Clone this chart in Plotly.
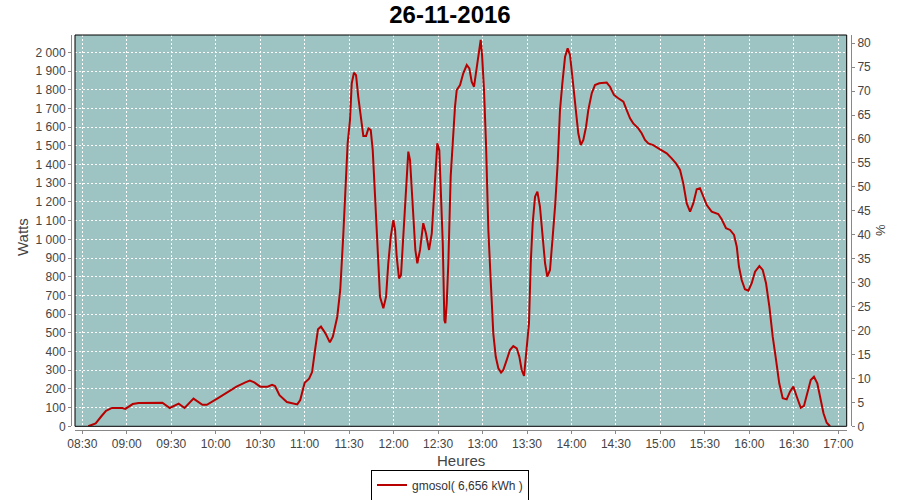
import plotly.graph_objects as go

DAY = "2016-11-26"

times = [
    "08:34:00", "08:35:00", "08:39:00", "08:43:00", "08:46:00", "08:50:00", "08:57:00", "08:59:00",
    "09:04:00", "09:08:00", "09:21:00", "09:24:00", "09:29:00", "09:35:00", "09:39:00", "09:45:00",
    "09:51:00", "09:54:00", "10:01:00", "10:08:00", "10:14:00", "10:20:00", "10:23:00", "10:26:00",
    "10:30:00", "10:35:00", "10:38:00", "10:40:00", "10:43:00", "10:48:00", "10:51:00", "10:55:00",
    "10:57:00", "11:00:00", "11:03:00", "11:05:00", "11:07:00", "11:09:00", "11:11:00", "11:14:00",
    "11:17:00", "11:19:00", "11:22:00", "11:24:00", "11:26:00", "11:28:00", "11:29:00", "11:30:35",
    "11:31:45", "11:33:15", "11:34:40", "11:36:10", "11:37:50", "11:39:35", "11:41:25", "11:43:00",
    "11:44:35", "11:45:55", "11:47:30", "11:48:35", "11:49:40", "11:50:50", "11:53:05", "11:54:55",
    "11:56:25", "11:58:05", "11:59:50", "12:01:00", "12:02:05", "12:03:40", "12:05:00", "12:06:35",
    "12:08:20", "12:09:55", "12:11:05", "12:12:15", "12:13:20", "12:14:40", "12:16:00", "12:17:50",
    "12:20:00", "12:21:50", "12:23:55", "12:25:45", "12:27:15", "12:28:35", "12:29:30", "12:30:50",
    "12:32:00", "12:33:10", "12:34:15", "12:34:55", "12:35:50", "12:36:55", "12:38:30", "12:40:15",
    "12:41:25", "12:42:35", "12:44:50", "12:47:00", "12:49:20", "12:51:05", "12:52:40", "12:54:15",
    "12:55:35", "12:57:10", "12:58:45", "12:59:40", "13:01:00", "13:02:20", "13:03:55", "13:05:30",
    "13:07:15", "13:08:55", "13:10:40", "13:12:30", "13:14:00", "13:16:20", "13:18:30", "13:20:45",
    "13:23:05", "13:24:50", "13:26:25", "13:28:00", "13:29:50", "13:31:20", "13:32:30", "13:33:50",
    "13:35:25", "13:37:00", "13:38:45", "13:40:35", "13:42:10", "13:43:40", "13:45:30", "13:47:20",
    "13:49:05", "13:50:40", "13:52:15", "13:53:50", "13:55:40", "13:57:25", "13:59:00", "14:00:20",
    "14:01:55", "14:03:30", "14:04:35", "14:06:15", "14:08:00", "14:09:50", "14:11:20", "14:13:40",
    "14:15:50", "14:18:45", "14:23:45", "14:26:00", "14:28:40", "14:31:35", "14:35:00", "14:37:15",
    "14:39:30", "14:41:40", "14:45:05", "14:47:20", "14:49:35", "14:51:50", "14:55:10", "14:59:45",
    "15:04:15", "15:07:35", "15:10:30", "15:13:15", "15:15:25", "15:17:45", "15:20:00", "15:22:10",
    "15:24:30", "15:26:40", "15:28:55", "15:31:15", "15:34:35", "15:39:00", "15:41:20", "15:44:15",
    "15:47:00", "15:49:40", "15:51:30", "15:53:00", "15:54:50", "15:57:00", "15:59:20", "16:01:35",
    "16:03:50", "16:06:45", "16:09:00", "16:11:15", "16:13:30", "16:15:45", "16:18:00", "16:20:10",
    "16:22:30", "16:25:10", "16:27:25", "16:29:40", "16:32:00", "16:34:40", "16:36:50", "16:39:05",
    "16:41:25", "16:43:35", "16:45:50", "16:48:10", "16:50:00", "16:52:10", "16:54:25",
]

watts = [
    0, 3, 16, 55, 83, 98, 98, 93,
    119, 125, 125, 126, 98, 121, 98, 148,
    115, 115, 148, 185, 212, 235, 244, 235,
    212, 212, 222, 215, 166, 130, 124, 117,
    140, 233, 255, 290, 408, 519, 533, 497,
    449, 479, 586, 729, 1014, 1335, 1513, 1638,
    1834, 1891, 1878, 1762, 1655, 1552, 1552, 1593,
    1584, 1477, 1228, 1050, 836, 693, 631, 693,
    872, 1014, 1103, 1050, 907, 791, 809, 1014,
    1281, 1469, 1424, 1281, 1086, 943, 872, 943,
    1086, 1032, 943, 1032, 1228, 1371, 1513, 1477,
    1228, 979, 568, 551, 658, 872, 1335, 1567,
    1709, 1798, 1825, 1888, 1932, 1914, 1843, 1816,
    1888, 1959, 2066, 1986, 1798, 1513, 1050, 782,
    497, 372, 310, 287, 301, 355, 408, 429,
    417, 372, 301, 269, 408, 551, 872, 1086,
    1228, 1255, 1174, 996, 872, 800, 836, 1014,
    1192, 1406, 1691, 1834, 1976, 2021, 1986, 1888,
    1762, 1655, 1567, 1504, 1531, 1602, 1691, 1781,
    1825, 1834, 1838, 1816, 1772, 1754, 1736, 1691,
    1647, 1620, 1593, 1567, 1531, 1513, 1504, 1481,
    1460, 1433, 1406, 1371, 1299, 1192, 1148, 1192,
    1267, 1273, 1228, 1183, 1148, 1135, 1107, 1059,
    1050, 1023, 960, 853, 782, 733, 725, 765,
    827, 857, 836, 765, 640, 479, 355, 230,
    150, 144, 185, 212, 158, 99, 109, 176,
    248, 265, 230, 141, 70, 19, 0,
]

series_name = "gmosol( 6,656 kWh )"
title_text = "26-11-2016"

watt_ticks = list(range(0, 2001, 100))
watt_labels = ["{:,}".format(v).replace(",", " ") for v in watt_ticks]
pct_ticks = list(range(0, 81, 5))
pct_labels = [str(v) for v in pct_ticks]
hour_ticks = ["08:30", "09:00", "09:30", "10:00", "10:30", "11:00", "11:30", "12:00", "12:30",
              "13:00", "13:30", "14:00", "14:30", "15:00", "15:30", "16:00", "16:30", "17:00"]

x_vals = [f"{DAY} {t}" for t in times]

FONT = "Liberation Sans, Arial, sans-serif"
TICK_COLOR = "#444444"
AXIS_COLOR = "#888888"

fig = go.Figure()
fig.add_trace(go.Scatter(
    x=x_vals, y=watts, mode="lines", name=series_name,
    line=dict(color="#B80000", width=2),
))
fig.add_trace(go.Scatter(x=[x_vals[0]], y=[0], yaxis="y2", mode="lines",
                         showlegend=False, hoverinfo="skip",
                         line=dict(color="rgba(0,0,0,0)")))

L, R, T, B = 60, 40, 35, 60
PW, PH = 900 - L - R, 500 - T - B

def fx(px):
    return (px - L) / PW

def fy(py):
    return (500 - B - py) / PH

grid = dict(showgrid=True, gridcolor="white", gridwidth=1, griddash="2px,2px")

fig.update_layout(
    width=900, height=500,
    margin=dict(l=L, r=R, t=T, b=B, autoexpand=False),
    paper_bgcolor="white",
    plot_bgcolor="#9DC3C2",
    font=dict(family=FONT, size=12, color=TICK_COLOR),
    title=dict(text=title_text, x=0.5, xref="container", xanchor="center",
               y=1 - 15 / 500, yref="container", yanchor="middle",
               font=dict(family=FONT, size=24, color="black", weight="bold")),
    xaxis=dict(
        type="date",
        domain=[fx(75), fx(846.7)],
        anchor="free", position=fy(430),
        range=[f"{DAY} 08:25:04", f"{DAY} 17:05:40"],
        tickvals=[f"{DAY} {h}:00" for h in hour_ticks],
        ticktext=hour_ticks,
        ticks="outside", ticklen=3, tickcolor=AXIS_COLOR,
        showline=True, linecolor=AXIS_COLOR, linewidth=1,
        tickfont=dict(size=12, color=TICK_COLOR),
        zeroline=False, automargin=False,
        **grid,
    ),
    yaxis=dict(
        domain=[fy(426.3), 1],
        anchor="free", position=fx(71),
        range=[0, 2092.5],
        tickvals=watt_ticks, ticktext=watt_labels,
        ticks="outside", ticklen=3, tickcolor=AXIS_COLOR,
        showline=True, linecolor=AXIS_COLOR, linewidth=1,
        tickfont=dict(size=12, color=TICK_COLOR),
        zeroline=False, automargin=False,
        **grid,
    ),
    yaxis2=dict(
        overlaying="y", side="right",
        anchor="free", position=fx(851),
        range=[0, 81.73],
        tickvals=pct_ticks, ticktext=pct_labels,
        ticks="outside", ticklen=3, tickcolor=AXIS_COLOR,
        showline=True, linecolor=AXIS_COLOR, linewidth=1,
        tickfont=dict(size=12, color=TICK_COLOR),
        showgrid=False, zeroline=False, automargin=False,
    ),
    legend=dict(
        orientation="h", x=0.5, xref="container", xanchor="center",
        y=(500 - 485) / 500, yref="container", yanchor="middle",
        bordercolor="black", borderwidth=1, bgcolor="white",
        font=dict(family=FONT, size=12, color="#333333"),
        itemwidth=30,
    ),
    showlegend=True,
    shapes=[dict(type="rect", xref="x domain", yref="y domain", x0=0, x1=1, y0=0, y1=1,
                 line=dict(color="black", width=1), fillcolor="rgba(0,0,0,0)", layer="above")],
    annotations=[
        dict(text="Watts", xref="paper", yref="paper", x=fx(22), y=fy(237),
             textangle=-90, showarrow=False, xanchor="center", yanchor="middle",
             font=dict(family=FONT, size=15, color=TICK_COLOR)),
        dict(text="Heures", xref="paper", yref="paper", x=fx(461), y=fy(460),
             showarrow=False, xanchor="center", yanchor="middle",
             font=dict(family=FONT, size=15, color=TICK_COLOR)),
        dict(text="%", xref="paper", yref="paper", x=fx(880), y=fy(230),
             textangle=-90, showarrow=False, xanchor="center", yanchor="middle",
             font=dict(family=FONT, size=13, color=TICK_COLOR)),
    ],
)

fig.write_html("out.html", config={"displayModeBar": False},
               post_script="document.body.style.margin='0';")
